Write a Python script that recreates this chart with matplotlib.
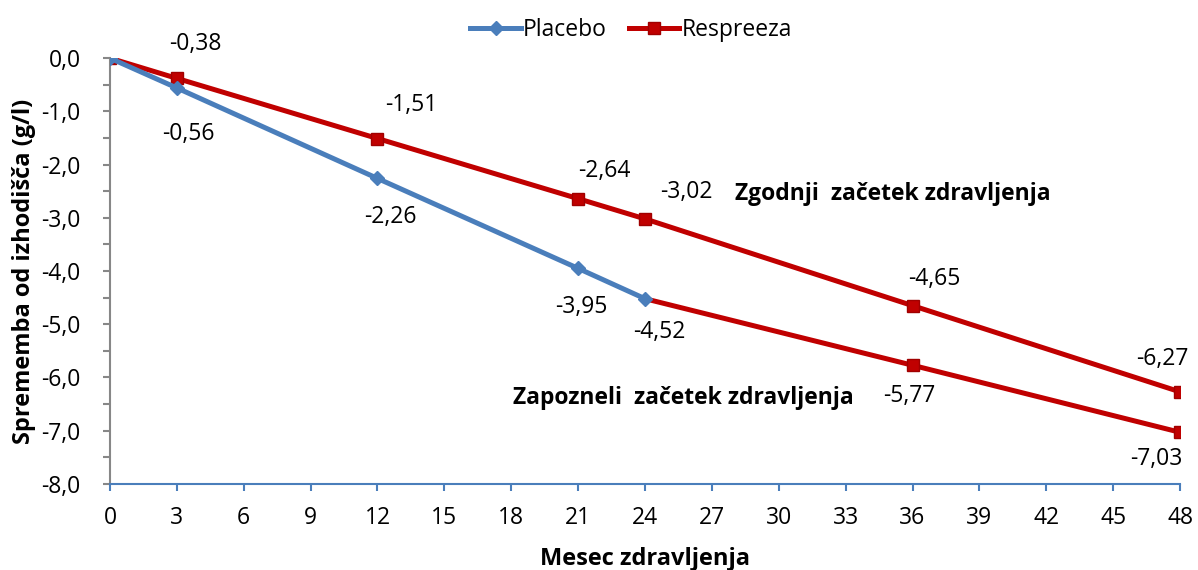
import matplotlib
matplotlib.use("Agg")
import matplotlib.pyplot as plt
from matplotlib.ticker import MultipleLocator, FuncFormatter

plt.rcParams["font.family"] = ["Open Sans", "DejaVu Sans"]

# data
placebo_months = [0, 3, 12, 21, 24]
placebo_vals = [0.0, -0.56, -2.26, -3.95, -4.52]
early_months = [0, 3, 12, 21, 24, 36, 48]
early_vals = [0.0, -0.38, -1.51, -2.64, -3.02, -4.65, -6.27]
delayed_months = [24, 36, 48]
delayed_vals = [-4.52, -5.77, -7.03]

BLUE = "#4a7ebb"
RED = "#c00000"
TXT = 16.5

fig = plt.figure(figsize=(11.98, 5.70), dpi=100)
ax = fig.add_axes([0.0918, 0.151, 0.8932, 0.747])

ax.plot(early_months, early_vals, color=RED, lw=3.6, marker="s", ms=8.5,
        mfc=RED, mec="#a00000", label="Respreeza", zorder=3)
ax.plot(delayed_months[1:], delayed_vals[1:], ls="none", marker="s", ms=8.5,
        mfc=RED, mec="#a00000", zorder=3)
ax.plot(delayed_months, delayed_vals, color=RED, lw=3.6, zorder=2)
ax.plot(placebo_months, placebo_vals, color=BLUE, lw=3.6, marker="D", ms=7,
        mfc=BLUE, mec=BLUE, label="Placebo", zorder=4)


def fmt(v):
    return f"{v:.2f}".replace(".", ",")


# label offsets in points (dx, dy), text centred
early_off = [None, (13, 25), (24, 24), (19, 20), (30, 19), (16, 19), (-13, 24)]
placebo_off = [None, (8, -33), (9, -28), (2, -28), (10, -24)]
delayed_off = [None, (-2, -22), (-17, -19)]

for months, vals, offs in [(early_months, early_vals, early_off),
                           (placebo_months, placebo_vals, placebo_off),
                           (delayed_months, delayed_vals, delayed_off)]:
    for m, v, off in zip(months, vals, offs):
        if off:
            ax.annotate(fmt(v), (m, v), xytext=off, textcoords="offset points",
                        ha="center", va="center", fontsize=TXT)

ax.text(35.1, -2.55, "Zgodnji  začetek zdravljenja", fontsize=TXT, fontweight="bold",
        ha="center", va="center")
ax.text(25.7, -6.38, "Zapozneli  začetek zdravljenja", fontsize=TXT, fontweight="bold",
        ha="center", va="center")

ax.set_xlim(0, 48)
ax.set_ylim(-8, 0)
ax.xaxis.set_major_locator(MultipleLocator(3))
ax.yaxis.set_major_locator(MultipleLocator(1))
ax.yaxis.set_minor_locator(MultipleLocator(0.5))
ax.yaxis.set_major_formatter(FuncFormatter(lambda v, p: f"{v:.1f}".replace(".", ",").replace("-0,0", "0,0")))

for s in ["top", "right"]:
    ax.spines[s].set_visible(False)
ax.spines["left"].set_color("#878787")
ax.spines["left"].set_linewidth(1.5)
ax.spines["bottom"].set_color(BLUE)
ax.spines["bottom"].set_linewidth(1.5)
ax.tick_params(axis="y", which="both", direction="out", length=5, width=1.5,
               color="#878787", labelsize=TXT, pad=16)
ax.tick_params(axis="x", direction="out", length=5, width=1.5, color=BLUE,
               labelsize=TXT, pad=11)
ax.patch.set_alpha(0)

ax.set_xlabel("Mesec zdravljenja", fontsize=17, fontweight="bold", labelpad=12)
ax.set_ylabel("Sprememba od izhodišča (g/l)", fontsize=17, fontweight="bold", labelpad=4)

handles, labels = ax.get_legend_handles_labels()
ax.legend(handles[::-1], labels[::-1], loc="lower center", bbox_to_anchor=(0.487, 1.0),
          ncol=2, frameon=False, fontsize=TXT, handlelength=2.2, handletextpad=0.1,
          columnspacing=0.95, borderaxespad=0.3)

fig.savefig("out.png", dpi=100)
